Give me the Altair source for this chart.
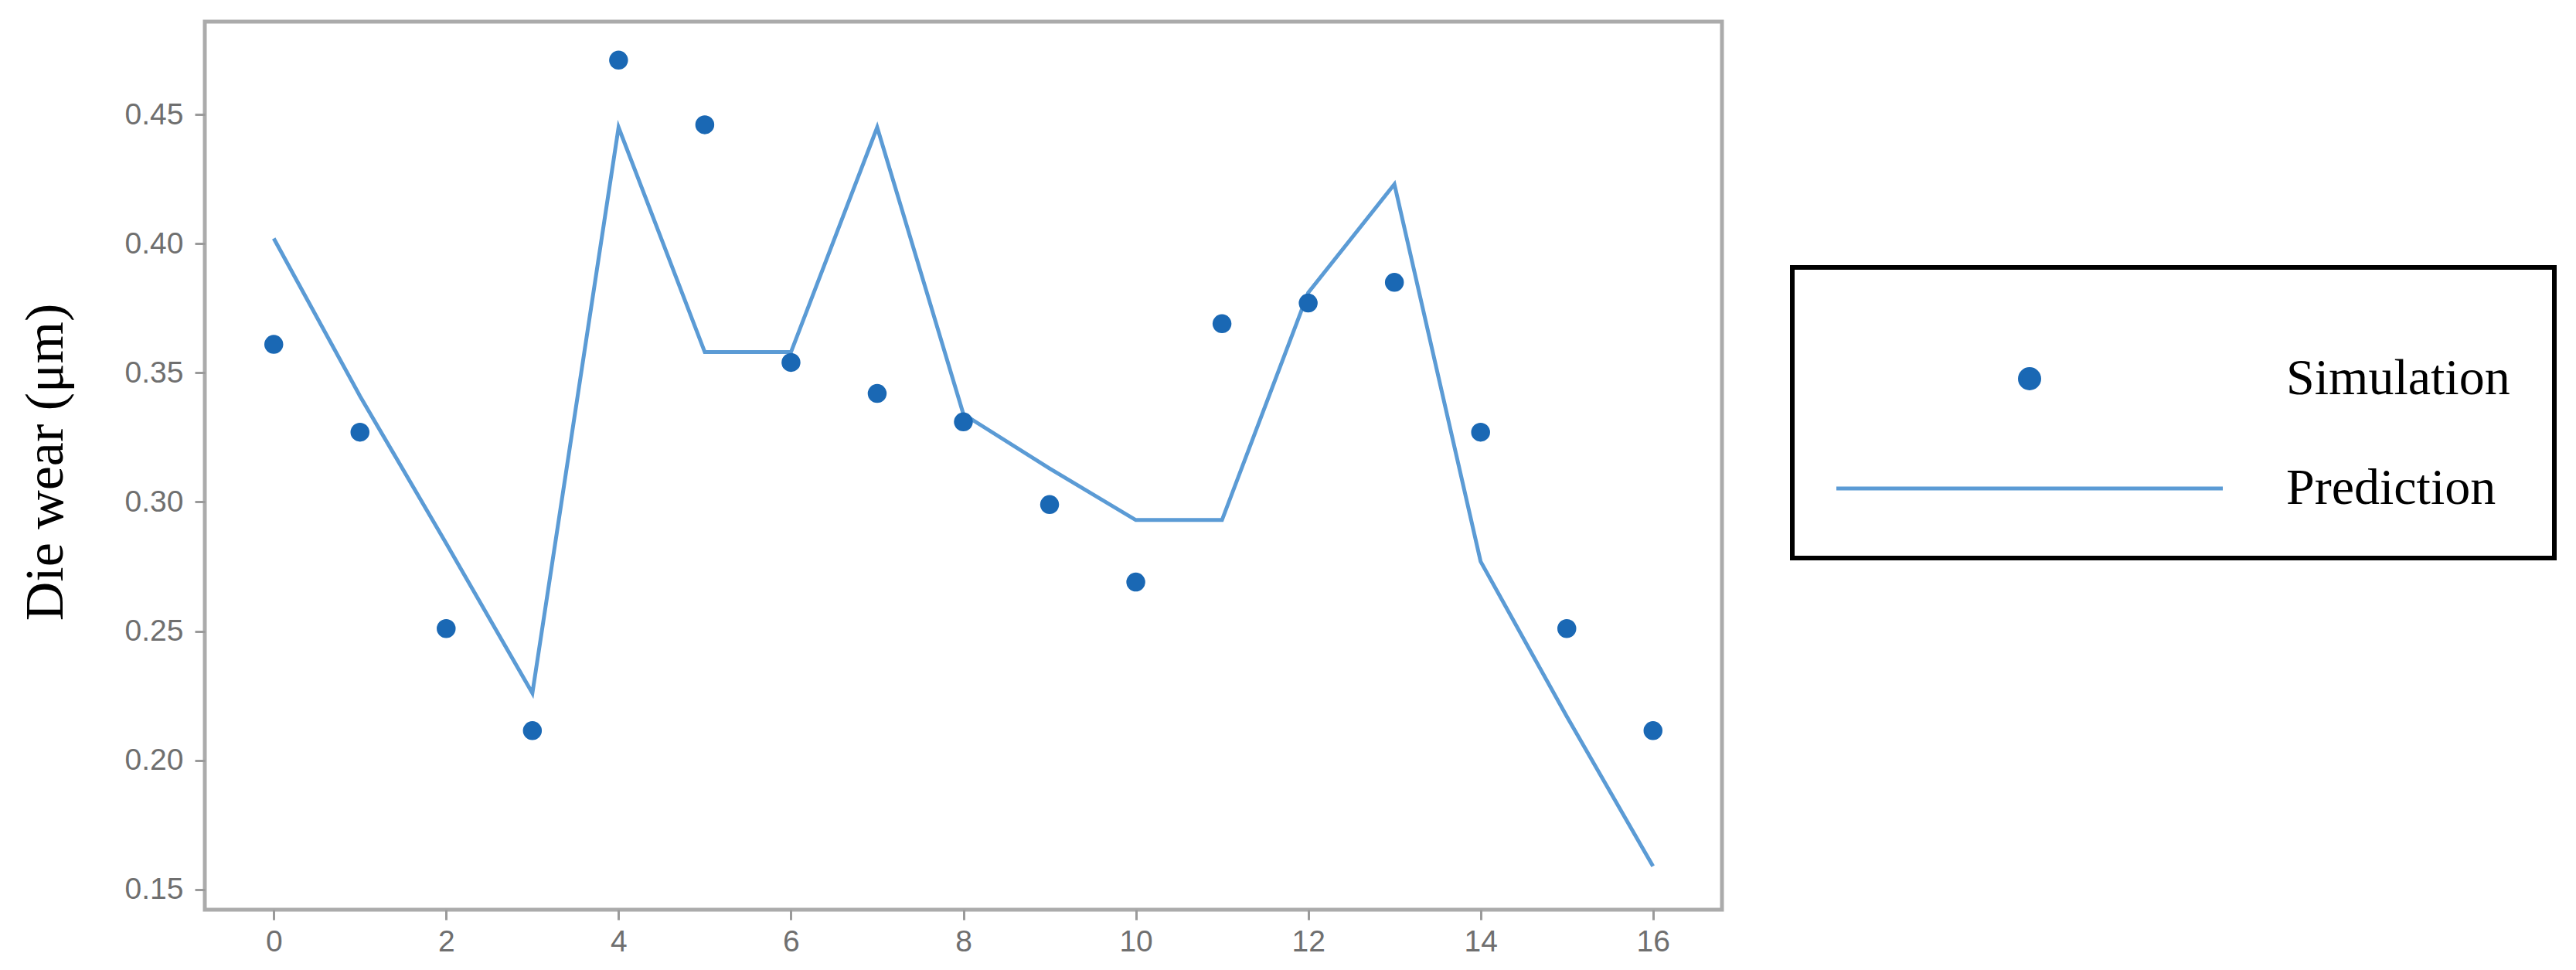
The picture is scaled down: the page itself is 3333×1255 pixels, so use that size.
import altair as alt
import pandas as pd

# ---- data ----
steps = list(range(17))
simulation = [0.361, 0.327, 0.251, 0.2115, 0.471, 0.446, 0.354, 0.342, 0.331,
              0.299, 0.269, 0.369, 0.377, 0.385, 0.327, 0.251, 0.2115]
prediction = [0.402, 0.341, 0.284, 0.226, 0.445, 0.358, 0.358, 0.445, 0.334,
              0.313, 0.293, 0.293, 0.381, 0.423, 0.277, 0.217, 0.159]
series_names = ["Simulation", "Prediction"]
x_ticks = [0, 2, 4, 6, 8, 10, 12, 14, 16]
y_ticks = [0.15, 0.20, 0.25, 0.30, 0.35, 0.40, 0.45]
y_title = "Die wear (μm)"

df = pd.DataFrame({
    "step": steps + steps,
    "wear": simulation + prediction,
    "series": [series_names[0]] * len(steps) + [series_names[1]] * len(steps),
})

color_scale = alt.Scale(domain=series_names, range=["#1a68b4", "#5b9bd5"])
shape_scale = alt.Scale(domain=series_names, range=["circle", "M-20,0H20"])

legend = alt.Legend(
    title=" ", orient="none", legendX=2054, legendY=318, direction="vertical",
    padding=57, strokeColor="black", fillColor="white",
    symbolSize=625, symbolStrokeWidth=5, symbolOpacity=1, symbolOffset=217,
    labelOffset=299, labelFont="Liberation Serif", labelFontSize=66,
    labelColor="black", labelLimit=1000, rowPadding=76,
    titleFontSize=40, titlePadding=14,
)

x_enc = alt.X("step:Q", scale=alt.Scale(domain=[-0.8, 16.8], nice=False, zero=False),
              axis=alt.Axis(values=x_ticks, format="d", title=None))
y_enc = alt.Y("wear:Q", scale=alt.Scale(domain=[0.1422, 0.4859], nice=False, zero=False),
              axis=alt.Axis(values=y_ticks, format=".2f", title=y_title,
                            titleFont="Liberation Serif", titleFontSize=70,
                            titleFontWeight="normal", titleColor="black",
                            titleAngle=270, titleBaseline="alphabetic",
                            titleAlign="center", titleX=-185, titleY=569.5))

line = alt.Chart(df).transform_filter(alt.datum.series == "Prediction").mark_line(
    strokeWidth=5
).encode(
    x=x_enc, y=y_enc,
    color=alt.Color("series:N", scale=color_scale, legend=legend),
)

points = alt.Chart(df).transform_filter(alt.datum.series == "Simulation").mark_point(
    filled=True, size=600, opacity=1
).encode(
    x=x_enc, y=y_enc,
    color=alt.Color("series:N", scale=color_scale, legend=legend),
    shape=alt.Shape("series:N", scale=shape_scale, legend=legend),
)

chart = alt.layer(line, points).properties(
    width=1963, height=1149,
    autosize=alt.AutoSizeParams(type="none"),
    padding={"left": 257, "top": 20, "right": 1092, "bottom": 70},
).configure_view(
    stroke="#ababab", strokeWidth=5
).configure_axis(
    grid=False, domain=False, tickColor="#9a9a9a", tickWidth=3, tickSize=13,
    labelFont="Liberation Sans", labelFontSize=39, labelColor="#6f6f6f",
).configure_axisX(
    labelPadding=9
).configure_axisY(
    labelPadding=15
).configure_legend(
    strokeWidth=6
)

chart.save("out.html", embed_options={"renderer": "svg", "actions": False})
